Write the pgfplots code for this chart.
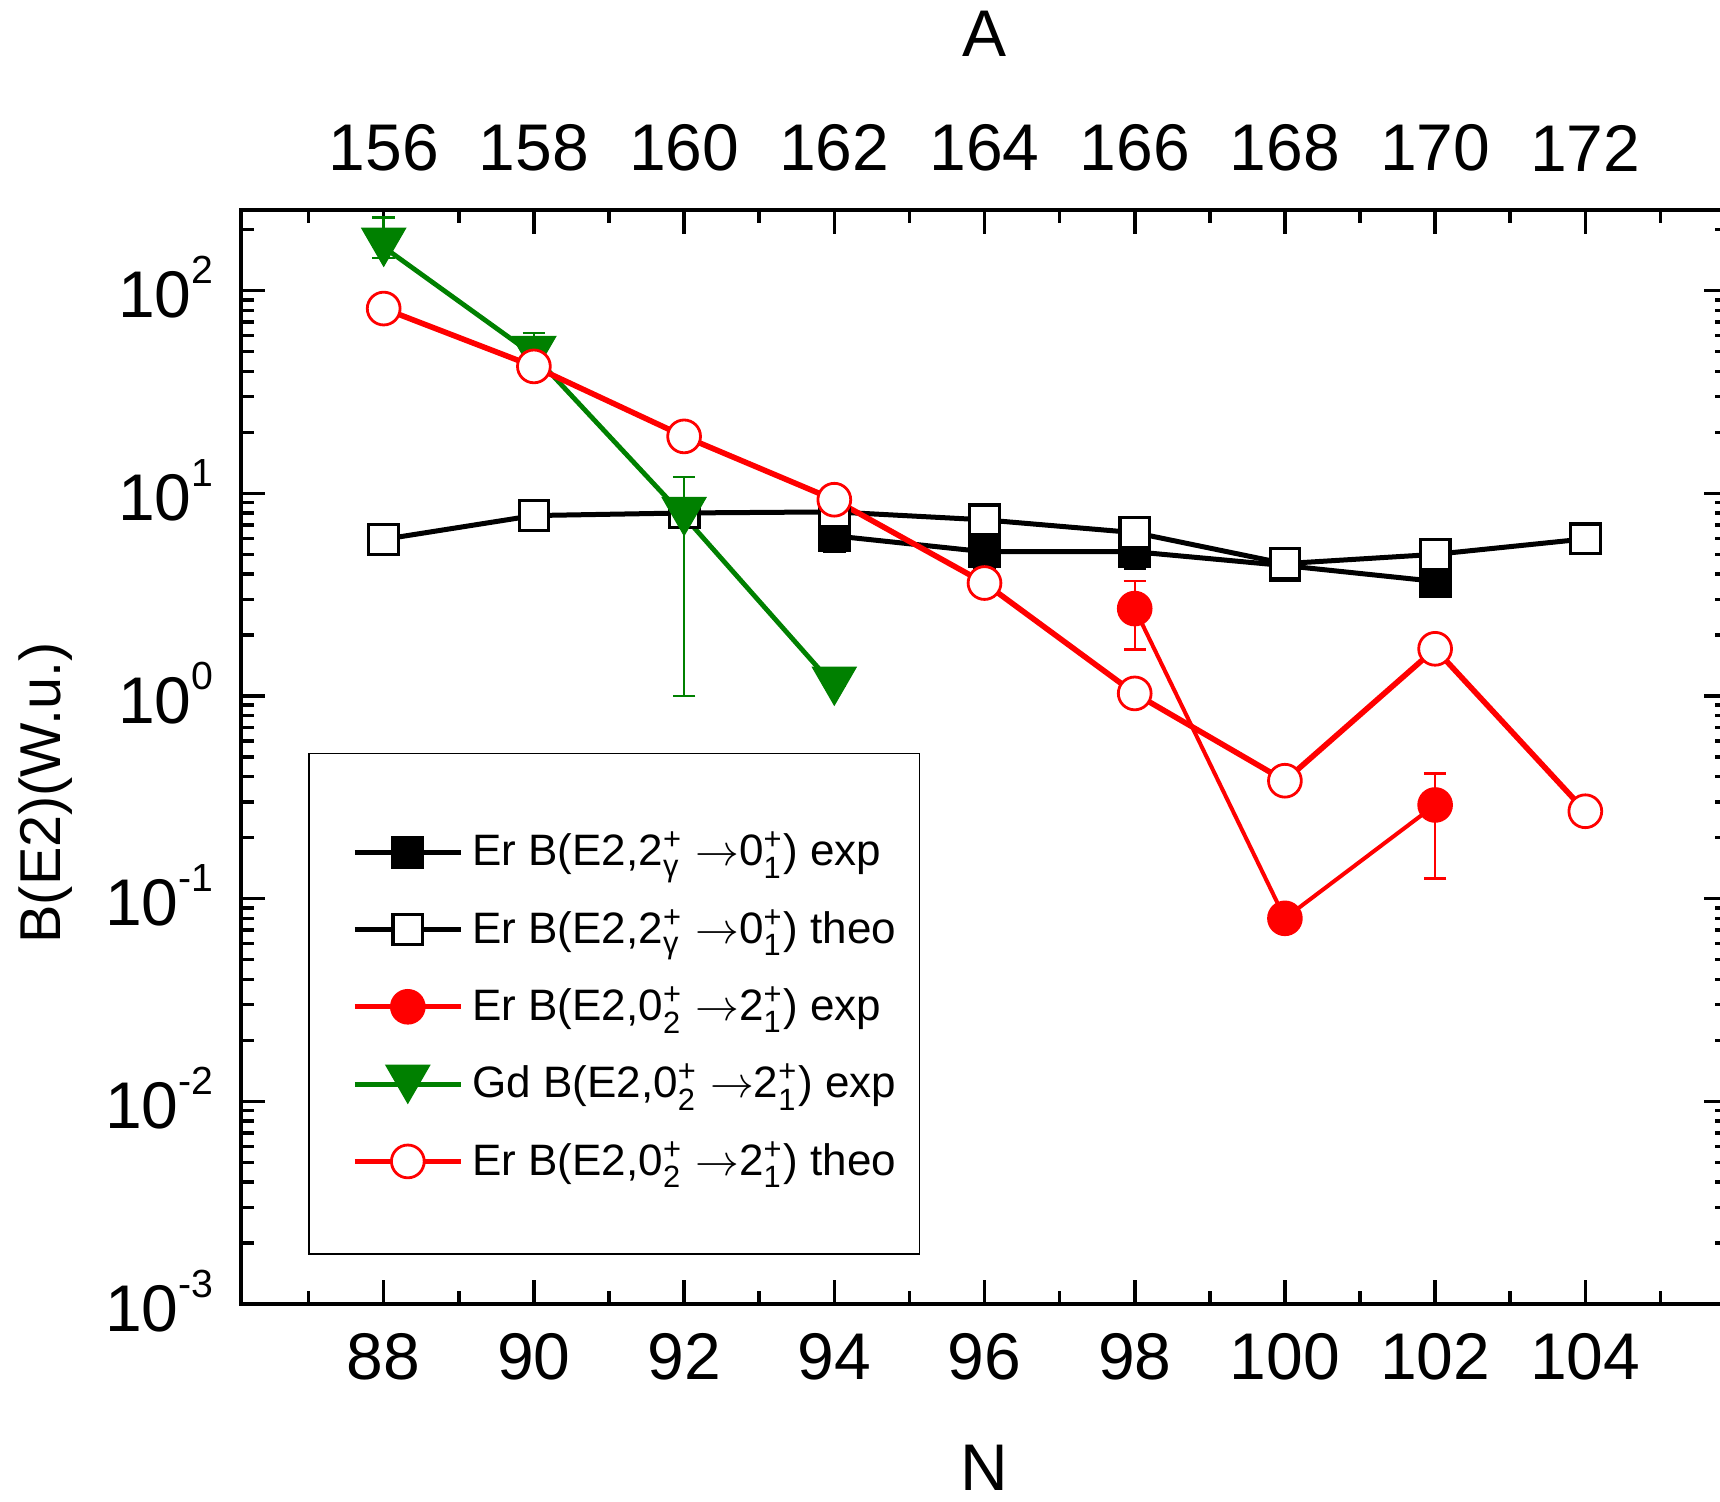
\documentclass[border=0pt]{standalone}
\usepackage{fontspec}
\setmainfont{Liberation Sans}
\setsansfont{Liberation Sans}
\usepackage{amsmath}
\usepackage{pgfplots}
\pgfplotsset{compat=1.18}
\usepackage{pgfplotstable}

\definecolor{ogreen}{rgb}{0,0.5,0}
\newcommand{\tsup}[1]{\raisebox{8.5pt}{\fontsize{9.8}{10}\selectfont #1}}
\newcommand{\st}[2]{$^{\text{#1}}_{\text{#2}}$}

\pgfplotstableread{
N y ep em
94 6.17 1.2 1.0
96 5.15 1.0 0.9
98 5.15 1.0 0.9
100 4.4 0.45 0.5
102 3.68 0.65 0.6
}\erexpg

\pgfplotstableread{
N y
88 5.93
90 7.77
92 8.0
94 8.1
96 7.4
98 6.4
100 4.5
102 5.0
104 5.96
}\ertheog

\pgfplotstableread{
N y ep em
98 2.7 1.0 1.0
100 0.08 0 0
102 0.29 0.125 0.164
}\erexpz

\pgfplotstableread{
N y ep em
88 164 66 19.5
90 48 14 5
92 7.7 4.3 6.7
94 1.12 0 0
}\gdexp

\pgfplotstableread{
N y
88 81.6
90 42.3
92 19.1
94 9.3
96 3.61
98 1.03
100 0.382
102 1.71
104 0.27
}\ertheoz

\begin{document}
\begin{tikzpicture}
\begin{axis}[
  scale only axis, width=371.75pt, height=273.5pt,
  xmin=86.1, xmax=105.9, ymode=log, ymin=1e-3, ymax=250,
  xtick={88,90,...,104}, xticklabels={88,90,92,94,96,98,100,102,104},
  minor xtick={87,89,...,105},
  ytick={1e-3,1e-2,1e-1,1,10,100},
  yticklabels={10\tsup{-3},10\tsup{-2},10\tsup{-1},10\tsup{0},10\tsup{1},10\tsup{2}},
  minor ytick={2e-3,3e-3,4e-3,5e-3,6e-3,7e-3,8e-3,9e-3,0.02,0.03,0.04,0.05,0.06,0.07,0.08,0.09,0.2,0.3,0.4,0.5,0.6,0.7,0.8,0.9,2,3,4,5,6,7,8,9,20,30,40,50,60,70,80,90,200},
  tick align=inside,
  major tick length=6pt, minor tick length=3.3pt,
  every tick/.style={black, line width=0.9pt},
  axis line style={line width=1pt},
  tick label style={font=\fontsize{16.5}{19}\selectfont},
  xticklabel style={anchor=north, inner sep=0pt, yshift=-7.25pt},
  yticklabel style={anchor=base east, inner sep=0pt, xshift=-6.7pt, yshift=-6.8pt},
  xlabel={N}, ylabel={B(E2)(W.u.)},
  xlabel style={font=\fontsize{16.5}{19}\selectfont, at={(axis description cs:0.5,0)}, anchor=north, inner sep=0pt, yshift=-35pt},
  ylabel style={font=\fontsize{14.4}{17}\selectfont, at={(axis description cs:0,0.467)}, anchor=center, inner sep=0pt, yshift=48.75pt},
  legend cell align=left,
  legend style={
    at={(0.04506,0.04479)}, anchor=south west,
    draw=black,
    inner xsep=3.8pt, inner ysep=16.4pt,
    row sep=4.23pt, column sep=0.25pt,
    font=\fontsize{11}{13}\selectfont,
    nodes={text height=9.2pt, text depth=1.4pt},
  },
  legend image code/.code={
    \path[draw=none,fill=none] (-7.7pt,0pt) rectangle (26.5pt,7.8pt);
    \draw[line width=1.3pt, mark repeat=2,mark phase=2] plot coordinates {(0pt,-0.5pt) (13.25pt,-0.5pt) (26.5pt,-0.5pt)};
  },
]
\addplot[black, line width=1.25pt, mark=square*, mark size=3.7pt,
  mark options={solid, line width=0.8pt, fill=black},
  error bars/.cd, y dir=both, y explicit,
  error bar style={line width=0.6pt},
  error mark options={rotate=90, line width=0.6pt, mark size=2.8pt}]
  table[x=N, y=y, y error plus=ep, y error minus=em] {\erexpg};
\addlegendentry{Er B(E2,2\st{+}{γ} $\rightarrow$0\st{+}{1}) exp}

\addplot[black, line width=1.25pt, mark=square*, mark size=3.7pt,
  mark options={solid, line width=0.8pt, fill=white}]
  table[x=N, y=y] {\ertheog};
\addlegendentry{Er B(E2,2\st{+}{γ} $\rightarrow$0\st{+}{1}) theo}

\addplot[red, line width=1pt, mark=*, mark size=4.1pt,
  mark options={solid, line width=0.7pt, fill=red},
  error bars/.cd, y dir=both, y explicit,
  error bar style={line width=0.6pt},
  error mark options={rotate=90, line width=0.6pt, mark size=2.8pt}]
  table[x=N, y=y, y error plus=ep, y error minus=em] {\erexpz};
\addlegendentry{Er B(E2,0\st{+}{2} $\rightarrow$2\st{+}{1}) exp}

\addplot[ogreen, line width=1.2pt, mark=triangle*, mark size=6.3pt,
  mark options={solid, line width=0.3pt, fill=ogreen, yshift=1.55pt, rotate=180},
  error bars/.cd, y dir=both, y explicit,
  error bar style={line width=0.6pt},
  error mark options={rotate=90, line width=0.6pt, mark size=2.8pt}]
  table[x=N, y=y, y error plus=ep, y error minus=em] {\gdexp};
\addlegendentry{Gd B(E2,0\st{+}{2} $\rightarrow$2\st{+}{1}) exp}

\addplot[red, line width=1.4pt, mark=*, mark size=4.1pt,
  mark options={solid, line width=0.7pt, fill=white}]
  table[x=N, y=y] {\ertheoz};
\addlegendentry{Er B(E2,0\st{+}{2} $\rightarrow$2\st{+}{1}) theo}
\end{axis}

\begin{axis}[
  scale only axis, width=371.75pt, height=273.5pt,
  xmin=86.1, xmax=105.9, ymode=log, ymin=1e-3, ymax=250,
  axis x line*=top, axis y line=none,
  axis line style={draw=none},
  xtick={88,90,...,104}, xticklabels={156,158,160,162,164,166,168,170,172},
  major tick length=0pt, minor tick length=0pt,
  tick label style={font=\fontsize{16.5}{19}\selectfont},
  xticklabel style={anchor=south, inner sep=0pt, yshift=9.5pt},
  xlabel={A},
  xlabel style={font=\fontsize{16.5}{19}\selectfont, at={(axis description cs:0.5,1)}, anchor=south, inner sep=0pt, yshift=38.25pt},
]
\end{axis}

\pgfresetboundingbox
\path (-60.25pt,-49.25pt) rectangle (369.75pt,326pt);
\end{tikzpicture}
\end{document}
